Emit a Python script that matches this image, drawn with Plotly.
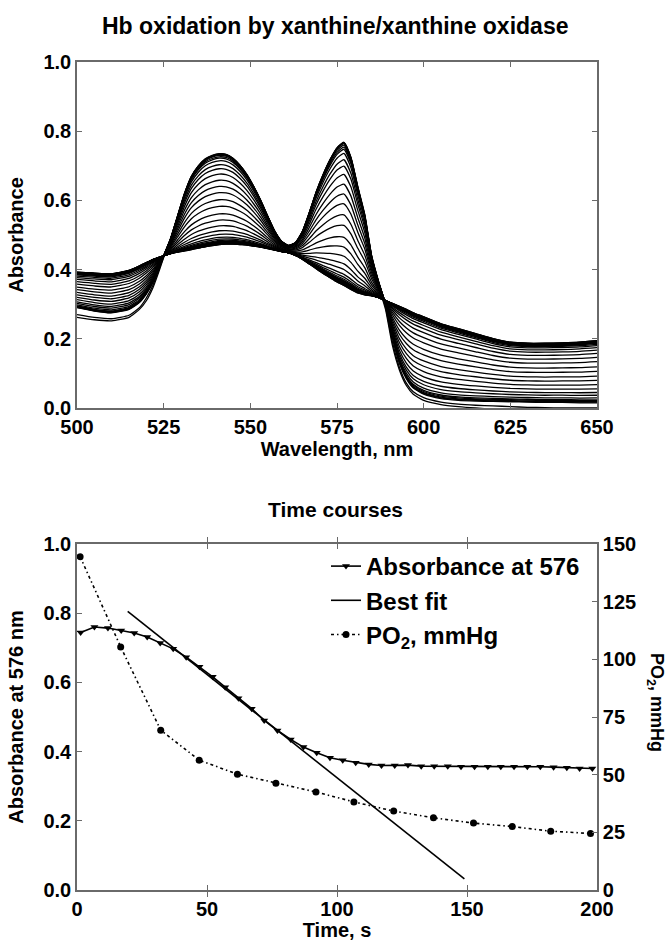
import plotly.graph_objects as go

# ---------------- Top panel: spectra ----------------
wavelengths = [500, 505, 510, 515, 518, 520, 522, 524, 525,
               527, 529, 531, 533, 535, 537, 539, 541, 543, 545, 547, 549, 551, 553, 555,
               557, 559, 561, 563, 565, 567, 569, 571, 573, 575, 577, 579, 581, 583, 585,
               587, 589, 591, 593, 595, 597,
               600, 605, 610, 615, 620, 625, 630, 635, 640, 645, 650]

# oxyHb end spectrum (first scan)
spec_oxy = [0.290, 0.280, 0.275, 0.285, 0.305, 0.330, 0.365, 0.415, 0.440,
            0.490, 0.555, 0.620, 0.670, 0.700, 0.720, 0.730, 0.735, 0.733, 0.722, 0.702, 0.675, 0.640, 0.600, 0.555,
            0.512, 0.482, 0.470, 0.478, 0.510, 0.565, 0.625, 0.675, 0.718, 0.752, 0.768, 0.725, 0.640, 0.560, 0.440,
            0.365, 0.300, 0.205, 0.130, 0.085, 0.058,
            0.040, 0.027, 0.022, 0.020, 0.019, 0.018, 0.017, 0.016, 0.016, 0.015, 0.015]

# metHb end spectrum (last scans)
spec_met = [0.390, 0.387, 0.385, 0.395, 0.408, 0.418, 0.428, 0.436, 0.440,
            0.447, 0.453, 0.458, 0.463, 0.468, 0.472, 0.476, 0.479, 0.480, 0.480, 0.478, 0.476, 0.472, 0.468, 0.463,
            0.458, 0.453, 0.449, 0.442, 0.432, 0.420, 0.408, 0.396, 0.385, 0.374, 0.364, 0.352, 0.340, 0.333, 0.327,
            0.320, 0.310, 0.300, 0.290, 0.280, 0.270,
            0.258, 0.238, 0.224, 0.210, 0.196, 0.186, 0.183, 0.183, 0.184, 0.186, 0.190]

# two baseline-shifted early scans (lowest curves at 500 nm and beyond 590 nm)
spec_early_a = [0.262, 0.255, 0.252, 0.262, 0.285, 0.310, 0.350, 0.405, 0.435,
                0.488, 0.553, 0.618, 0.668, 0.699, 0.719, 0.729, 0.734, 0.732, 0.721, 0.701, 0.674, 0.639, 0.599, 0.554,
                0.511, 0.481, 0.469, 0.477, 0.509, 0.564, 0.624, 0.674, 0.717, 0.751, 0.767, 0.723, 0.636, 0.552, 0.430,
                0.352, 0.285, 0.180, 0.110, 0.065, 0.040,
                0.022, 0.010, 0.004, 0.000, -0.003, -0.005, -0.007, -0.008, -0.009, -0.010, -0.010]
spec_early_b = [0.270, 0.262, 0.258, 0.268, 0.290, 0.318, 0.357, 0.410, 0.437,
                0.489, 0.554, 0.619, 0.669, 0.699, 0.719, 0.729, 0.734, 0.732, 0.721, 0.701, 0.674, 0.639, 0.599, 0.554,
                0.511, 0.481, 0.469, 0.477, 0.509, 0.564, 0.624, 0.674, 0.717, 0.751, 0.767, 0.724, 0.638, 0.555, 0.435,
                0.358, 0.292, 0.190, 0.118, 0.072, 0.047,
                0.030, 0.017, 0.011, 0.008, 0.006, 0.004, 0.002, 0.001, 0.000, 0.000, 0.000]

# fraction of Hb oxidised in each recorded scan
frac_oxidized = [0.00, 0.01, 0.02, 0.035, 0.05, 0.08, 0.125, 0.17, 0.23, 0.30,
                 0.37, 0.44, 0.52, 0.595, 0.68, 0.75, 0.815, 0.87, 0.91, 0.945,
                 0.965, 0.98, 0.99, 0.995, 1.00, 0.998, 1.005, 1.005, 1.005, 1.01,
                 1.01, 1.01, 1.01, 1.01, 1.01, 1.01, 1.012, 1.02, 1.025, 1.025]

# ---------------- Bottom panel: time courses ----------------
time_abs = [1.4, 6.7, 11.9, 17.0, 22.0, 27.0, 32.0, 37.0, 42.0, 47.1,
            52.2, 57.0, 62.1, 67.2, 72.0, 77.1, 82.2, 87.1, 92.2, 97.3,
            102.2, 107.2, 112.2, 117.1, 122.2, 127.3, 132.4, 137.4, 142.6, 147.7,
            152.9, 158.0, 163.0, 168.1, 173.2, 178.2, 183.3, 188.4, 193.3, 198.2]
abs_576 = [0.744, 0.760, 0.757, 0.750, 0.743, 0.731, 0.714, 0.697, 0.673, 0.645,
           0.616, 0.586, 0.554, 0.524, 0.490, 0.461, 0.435, 0.413, 0.397, 0.382,
           0.375, 0.368, 0.363, 0.360, 0.360, 0.361, 0.358, 0.358, 0.358, 0.356,
           0.356, 0.356, 0.356, 0.356, 0.356, 0.356, 0.355, 0.353, 0.351, 0.351]

fit_time = [19.5, 149.0]
fit_abs = [0.805, 0.032]

time_po2 = [1.2, 16.8, 32.2, 47.0, 61.7, 76.5, 91.9, 106.5, 121.8, 137.1, 152.5, 167.4, 182.2, 197.5]
po2 = [144.5, 105.4, 69.3, 56.3, 50.2, 46.3, 42.5, 38.2, 34.2, 31.3, 29.0, 27.5, 25.5, 24.5]

spec_ticks = [500, 525, 550, 575, 600, 625, 650]
time_ticks = [0, 50, 100, 150, 200]
abs_ticks = [0.0, 0.2, 0.4, 0.6, 0.8, 1.0]
po2_ticks = [0, 25, 50, 75, 100, 125, 150]

# ---------------- figure ----------------
W, H = 666, 941
FONT = "Liberation Sans, Arial, sans-serif"
AX = "#6a6a6a"


def px_x(p):
    return p / W


def px_y(p):
    return 1 - p / H


fig = go.Figure()

spectra = [spec_early_a, spec_early_b]
for f in frac_oxidized:
    spectra.append([(1 - f) * o + f * m for o, m in zip(spec_oxy, spec_met)])

for s in spectra:
    fig.add_trace(go.Scatter(
        x=wavelengths, y=s, mode="lines",
        line=dict(color="black", width=1.3, shape="spline", smoothing=0.5),
        showlegend=False, hoverinfo="skip", xaxis="x", yaxis="y"))

fig.add_trace(go.Scatter(
    x=time_abs, y=abs_576, mode="lines+markers", name="Absorbance at 576",
    line=dict(color="black", width=1.6),
    marker=dict(symbol="triangle-down", size=7, color="black"),
    xaxis="x2", yaxis="y2"))
fig.add_trace(go.Scatter(
    x=fit_time, y=fit_abs, mode="lines", name="Best fit",
    line=dict(color="black", width=1.6),
    xaxis="x2", yaxis="y2"))
fig.add_trace(go.Scatter(
    x=time_po2, y=po2, mode="lines+markers", name="PO<sub>2</sub>, mmHg",
    line=dict(color="black", width=1.6, dash="3px,3px,1.5px,3px"),
    marker=dict(symbol="circle", size=7, color="black"),
    xaxis="x2", yaxis="y3"))

xdom = [px_x(77), px_x(597)]
top_dom = [px_y(408), px_y(62)]
bot_dom = [px_y(890), px_y(544)]

tickfont = dict(family=FONT, size=20, color="black", weight="bold")
titlefont = dict(family=FONT, size=20, color="black", weight="bold")
common = dict(showline=True, linecolor=AX, linewidth=1.6, ticks="inside",
              ticklen=5, tickwidth=1.2, tickcolor=AX, showgrid=False,
              zeroline=False, tickfont=tickfont, automargin=False)

fig.update_layout(
    width=W, height=H,
    margin=dict(l=0, r=0, t=0, b=0),
    paper_bgcolor="white", plot_bgcolor="white",
    font=dict(family=FONT, color="black"),
    xaxis=dict(domain=xdom, anchor="y", range=[500, 650], tickvals=spec_ticks,
               mirror="allticks",
               title=dict(text="Wavelength, nm", font=titlefont, standoff=2), **common),
    yaxis=dict(domain=top_dom, anchor="x", range=[0, 1], tickvals=abs_ticks,
               tickformat=".1f", mirror="allticks",
               title=dict(text="Absorbance", font=titlefont, standoff=14), **common),
    xaxis2=dict(domain=xdom, anchor="y2", range=[0, 200], tickvals=time_ticks,
                mirror="allticks",
                title=dict(text="Time, s", font=titlefont, standoff=1), **common),
    yaxis2=dict(domain=bot_dom, anchor="x2", range=[0, 1], tickvals=abs_ticks,
                tickformat=".1f", mirror=False,
                title=dict(text="Absorbance at 576 nm", font=titlefont, standoff=14), **common),
    yaxis3=dict(domain=bot_dom, anchor="x2", overlaying="y2", side="right",
                range=[0, 150], tickvals=po2_ticks, **common),
    legend=dict(x=px_x(326), y=px_y(544), xanchor="left", yanchor="top",
                bgcolor="rgba(0,0,0,0)", itemwidth=30,
                font=dict(family=FONT, size=24, color="black", weight="bold")),
    annotations=[
        dict(text="Hb oxidation by xanthine/xanthine oxidase", x=px_x(335), y=px_y(26),
             xanchor="center", yanchor="middle",
             xref="paper", yref="paper", showarrow=False,
             font=dict(family=FONT, size=23, color="black", weight="bold")),
        dict(text="Time courses", x=px_x(335), y=px_y(509),
             xanchor="center", yanchor="middle",
             xref="paper", yref="paper", showarrow=False,
             font=dict(family=FONT, size=21, color="black", weight="bold")),
        dict(text="PO<sub>2</sub>, mmHg", x=px_x(656), y=px_y(702), textangle=90,
             xanchor="center", yanchor="middle",
             xref="paper", yref="paper", showarrow=False,
             font=dict(family=FONT, size=18, color="black", weight="bold")),
    ],
)

fig.write_html("out.html", config={"displayModeBar": False},
               post_script="document.body.style.margin='0px';")
